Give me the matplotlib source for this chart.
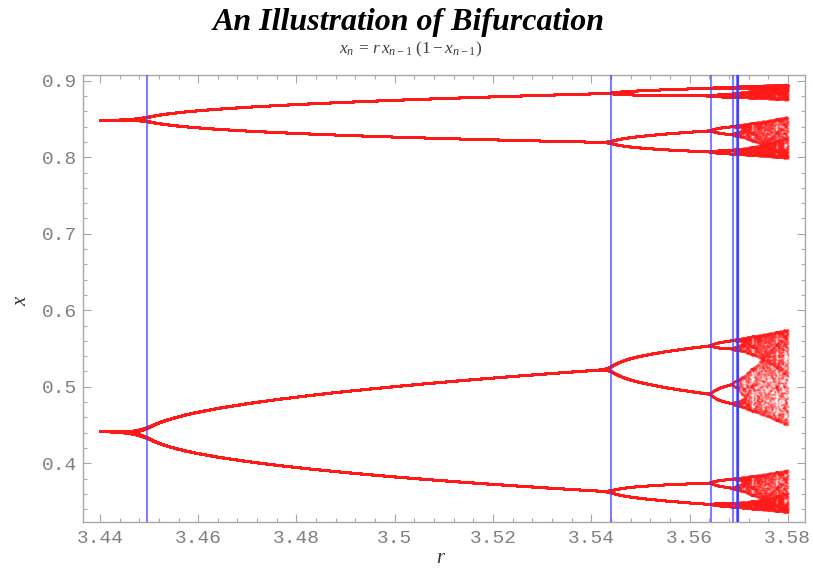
import numpy as np
import matplotlib

matplotlib.use("Agg")
import matplotlib.pyplot as plt  # noqa: E402
from matplotlib.ticker import MultipleLocator  # noqa: E402

# parameter range and iteration settings
r_start = 3.44
r_stop = 3.58
r_count = 1400
transient = 250
kept = 160
x_start = 0.5

# period-doubling points marked with vertical lines
bifurcations = [3.449490, 3.544090, 3.564407, 3.568759, 3.569692,
                3.569891, 3.569934, 3.569943]

x_ticks = [3.44, 3.46, 3.48, 3.50, 3.52, 3.54, 3.56, 3.58]
x_tick_labels = ["3.44", "3.46", "3.48", "3.5", "3.52", "3.54", "3.56", "3.58"]
y_ticks = [0.4, 0.5, 0.6, 0.7, 0.8, 0.9]
y_tick_labels = ["0.4", "0.5", "0.6", "0.7", "0.8", "0.9"]

_RED = "#ff1a1a"
_BLUE = "#3c3cff"
_FRAME = "#a8a8a8"
_TICKTXT = "#808080"

# orbit of the map x_n = r x_{n-1} (1 - x_{n-1}) shown in the subtitle
r = np.linspace(r_start, r_stop, r_count)
x = np.full(r_count, x_start)
for _ in range(transient):
    x = r * x * (1 - x)
rs, xs = [], []
for _ in range(kept):
    x = r * x * (1 - x)
    rs.append(r.copy())
    xs.append(x.copy())
rs = np.concatenate(rs)
xs = np.concatenate(xs)

fig = plt.figure(figsize=(8.13, 5.69), dpi=100)
ax = fig.add_axes([0.1017, 0.0826, 0.8885, 0.7861])

ax.scatter(rs, xs, s=2.4, color=_RED, linewidths=0, alpha=0.35, zorder=2)
for b in bifurcations:
    ax.axvline(b, color=_BLUE, linewidth=1.5, alpha=0.65, zorder=3)

ax.set_xlim(3.4365, 3.5835)
ax.set_ylim(0.3233, 0.9078)

ax.set_xticks(x_ticks)
ax.set_xticklabels(x_tick_labels)
ax.set_yticks(y_ticks)
ax.set_yticklabels(y_tick_labels)
ax.xaxis.set_minor_locator(MultipleLocator(0.004))
ax.yaxis.set_minor_locator(MultipleLocator(0.02))
ax.tick_params(which="both", direction="in", top=True, right=True,
               color=_FRAME, width=0.8)
ax.tick_params(which="major", length=6)
ax.tick_params(which="minor", length=3)
for lab in ax.get_xticklabels() + ax.get_yticklabels():
    lab.set_family("Liberation Mono")
    lab.set_fontsize(14)
    lab.set_color(_TICKTXT)
ax.tick_params(axis="x", pad=6)
ax.tick_params(axis="y", pad=4)
for spine in ax.spines.values():
    spine.set_color(_FRAME)
    spine.set_linewidth(1.0)

plt.rcParams["mathtext.fontset"] = "custom"
plt.rcParams["mathtext.rm"] = "Liberation Serif"
plt.rcParams["mathtext.it"] = "Liberation Serif:italic"

fig.text(0.503, 0.960, "An Illustration of Bifurcation", ha="center",
         va="center", family="Liberation Serif", fontsize=23,
         fontweight="bold", fontstyle="italic")
fig.text(0.505, 0.914, r"$x_n\,=\,r\,x_{n-1}\;(1-x_{n-1})$", ha="center",
         va="center", fontsize=12.5, color="#404040")
fig.text(0.027, 0.47, "x", ha="center", va="center", rotation=90,
         family="Liberation Serif", fontstyle="italic", fontsize=15,
         color="#333333")
fig.text(0.541, 0.002, "r", ha="center", va="bottom",
         family="Liberation Serif", fontstyle="italic", fontsize=15,
         color="#333333")

fig.savefig("out.png", dpi=100)
